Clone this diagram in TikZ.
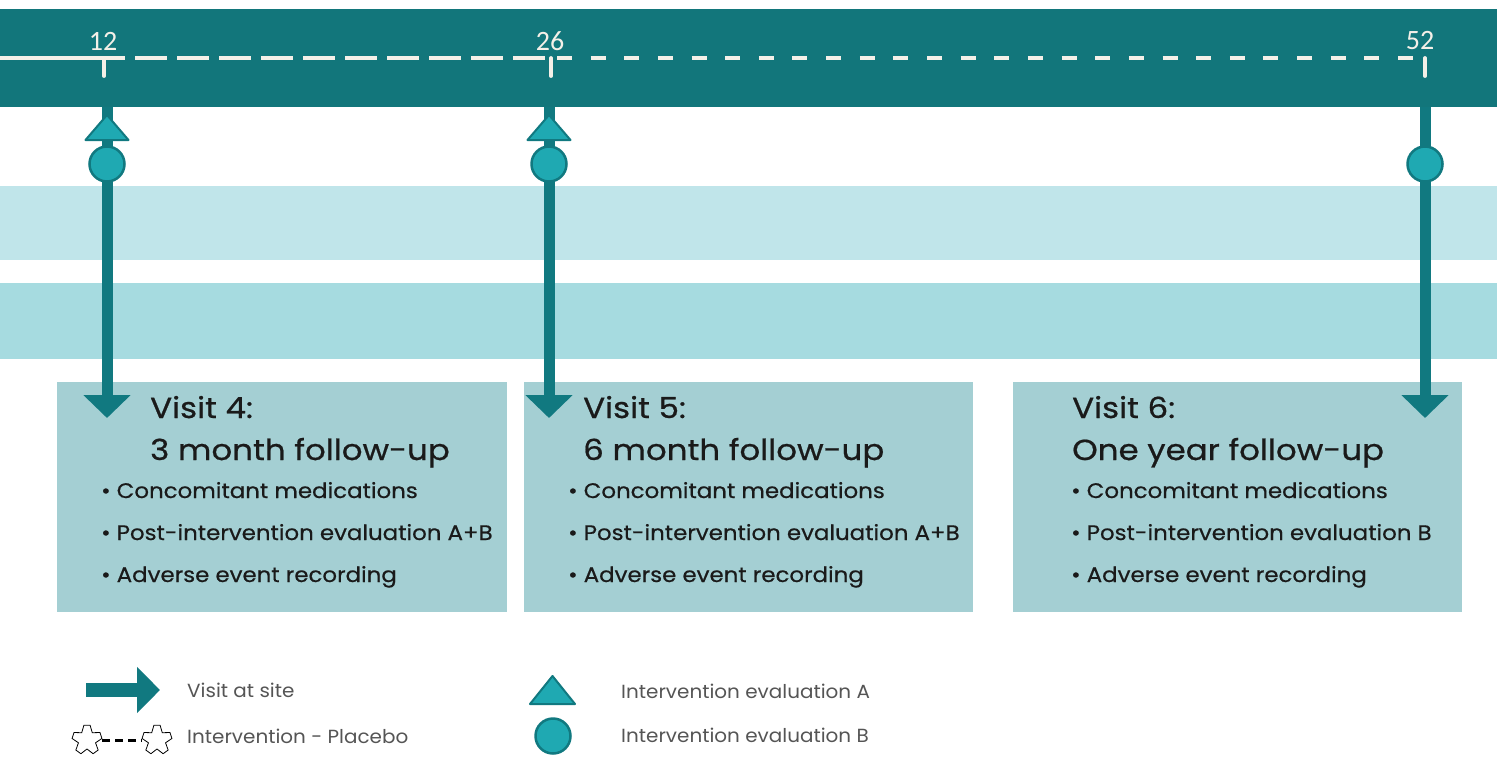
\documentclass[tikz,border=0pt]{standalone}
\usepackage{fontspec}
\setmainfont{Poppins}
\newfontfamily\numfont{Carlito}
\newfontfamily\titlefont{Poppins}[FakeStretch=1.12, FakeBold=0.7]
\newfontfamily\bulletfont{Poppins}[FakeStretch=1.09, FakeBold=0.5]
\newfontfamily\legendfont{Poppins}[FakeStretch=1.05]
\usetikzlibrary{arrows.meta,shapes.geometric}
\definecolor{barteal}{HTML}{12767B}
\definecolor{arrteal}{HTML}{117980}
\definecolor{mkfill}{HTML}{1FA9B2}
\definecolor{bandA}{HTML}{C0E5EA}
\definecolor{bandB}{HTML}{A6DBE0}
\definecolor{boxfill}{HTML}{A4CFD3}
\definecolor{legtext}{HTML}{555555}
\definecolor{boxtext}{HTML}{1A1A1A}
\definecolor{tickwhite}{HTML}{F4F0E8}
\tikzset{
  tline/.style={tickwhite, line width=3.8pt},
  tickmark/.style={tickwhite, line width=3.8pt, line cap=round},
  numlab/.style={text=tickwhite, font=\numfont\fontsize{28}{28}\selectfont, inner sep=0pt},
  visit/.style={arrteal, line width=11pt, -{Triangle[width=46pt,length=23pt]}},
  marktri/.style={fill=mkfill, draw=arrteal, line width=2pt, line join=round},
  markcirc/.style={circle, fill=mkfill, draw=arrteal, line width=2.5pt, minimum size=35pt, inner sep=0pt},
  boxst/.style={fill=boxfill, draw=none, anchor=north west, minimum width=450pt, minimum height=230pt, inner sep=0pt},
  titletext/.style={text=boxtext, anchor=base west, inner sep=0pt, font=\titlefont\fontsize{29}{29}\selectfont},
  bullettext/.style={text=boxtext, anchor=base west, inner sep=0pt, font=\bulletfont\fontsize{21}{21}\selectfont},
  legendtext/.style={text=legtext, anchor=base west, inner sep=0pt, font=\legendfont\fontsize{19}{19}\selectfont},
  gearline/.style={draw=black, fill=white, line width=0.8pt, line join=miter},
  gear/.pic={
    \draw[gearline] (258:15) -- (282:15) -- (306:9) -- (330:15) -- (354:15) -- (18:9)
      -- (42:15) -- (66:15) -- (90:9) -- (114:15) -- (138:15) -- (162:9)
      -- (186:15) -- (210:15) -- (234:9) -- cycle;
  },
}
\begin{document}
\begin{tikzpicture}[x=1pt,y=-1pt]
\useasboundingbox (0,0) rectangle (1498,756);
\fill[white] (0,0) rectangle (1498,756);
% top bar and bands
\node[fill=barteal, anchor=north west, minimum width=1497pt, minimum height=98pt, inner sep=0pt] (bar) at (0,9) {};
\node[fill=bandA, anchor=north west, minimum width=1497pt, minimum height=74pt, inner sep=0pt] (bandone) at (0,186) {};
\node[fill=bandB, anchor=north west, minimum width=1497pt, minimum height=76pt, inner sep=0pt] (bandtwo) at (0,283) {};
% timeline
\coordinate (l0) at (0,58);
\coordinate (l1) at (125,58);
\coordinate (d1a) at (135,58);
\coordinate (d1b) at (546,58);
\coordinate (d2a) at (557,58);
\coordinate (d2b) at (1413,58);
\draw[tline] (l0) -- (l1);
\draw[tline, dash pattern=on 32pt off 10pt] (d1a) -- (d1b);
\draw[tline, dash pattern=on 15pt off 18.64pt] (d2a) -- (d2b);
\foreach \x/\n in {104/12, 551/26, 1425/52} {
  \coordinate (ta\n) at (\x,58);
  \coordinate (tb\n) at (\x,76);
  \draw[tickmark] (ta\n) -- (tb\n);
}
\node[numlab] (n12) at (103,41) {12};
\node[numlab] (n26) at (550,41) {26};
\node[numlab] (n52) at (1420,41) {52};
% boxes
\node[boxst] (box4) at (57,382) {};
\node[boxst, minimum width=449pt] (box5) at (524,382) {};
\node[boxst, minimum width=449pt] (box6) at (1013,382) {};
% arrows
\foreach \x/\n in {107/12, 549/26, 1425/52} {
  \coordinate (s\n) at (\x,107);
  \coordinate (e\n) at (\x,418);
  \draw[visit] (s\n) -- (e\n);
}
% markers
\foreach \x/\n in {107/12, 549/26} {
  \filldraw[marktri] (\x-21.5,140) -- (\x,115) -- (\x+21.5,140) -- cycle;
}
\node[markcirc] (c12) at (107,164) {};
\node[markcirc] (c26) at (549,164) {};
\node[markcirc] (c52) at (1425,164) {};
% box texts
\node[titletext] (t4a) at (150,418) {Visit 4:};
\node[titletext] (t4b) at (150,460) {3 month follow-up};
\node[bullettext] (b4a) at (101,498) {• Concomitant medications};
\node[bullettext] (b4b) at (101,540) {• Post-intervention evaluation A+B};
\node[bullettext] (b4c) at (101,582) {• Adverse event recording};
\node[titletext] (t5a) at (583,418) {Visit 5:};
\node[titletext] (t5b) at (583,460) {6 month follow-up};
\node[bullettext] (b5a) at (568,498) {• Concomitant medications};
\node[bullettext] (b5b) at (568,540) {• Post-intervention evaluation A+B};
\node[bullettext] (b5c) at (568,582) {• Adverse event recording};
\node[titletext] (t6a) at (1072,418) {Visit 6:};
\node[titletext] (t6b) at (1072,460) {One year follow-up};
\node[bullettext] (b6a) at (1071,498) {• Concomitant medications};
\node[bullettext] (b6b) at (1071,540) {• Post-intervention evaluation B};
\node[bullettext] (b6c) at (1071,582) {• Adverse event recording};
% legend
\coordinate (la) at (86,690);
\coordinate (lb) at (160,690);
\draw[arrteal, line width=14pt, -{Triangle[width=45pt,length=23pt]}] (la) -- (lb);
\node[legendtext] (lvisit) at (187,697) {Visit at site};
\pic (st1) at (87,740) {gear};
\pic (st2) at (157,740) {gear};
\coordinate (ste) at (102,740);
\coordinate (stw) at (142,740);
\draw[black, line width=3pt, dash pattern=on 8pt off 5pt] (ste) -- (stw);
\node[legendtext] (lplacebo) at (187,743) {Intervention - Placebo};
\filldraw[marktri] (530,704) -- (552.5,676) -- (575,704) -- cycle;
\node[legendtext] (levala) at (621,698) {Intervention evaluation A};
\node[markcirc] (lcirc) at (553,736) {};
\node[legendtext] (levalb) at (621,742) {Intervention evaluation B};
\end{tikzpicture}
\end{document}
